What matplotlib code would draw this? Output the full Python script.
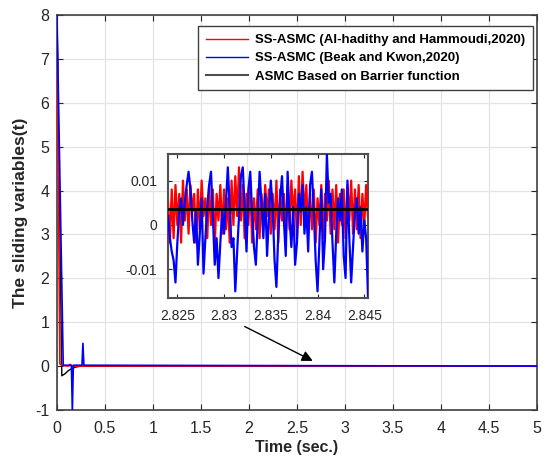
import numpy as np
import matplotlib
matplotlib.use('Agg')
from matplotlib import pyplot as plt

plt.rcParams['font.family'] = ['Liberation Sans', 'DejaVu Sans']
plt.rcParams['axes.unicode_minus'] = False

# main transient (time in s, sliding variable)
t_red = [0, 0.03, 0.05, 0.12, 0.135, 0.15, 5]
s_red = [8, 0.05, 0.02, 0.0, 0.04, 0.0, 0.0]

t_blue = [0, 0.065, 0.15, 0.16, 0.17, 0.26, 0.27, 0.28, 5]
s_blue = [8, 0.02, 0.02, -1.05, 0.02, 0.02, 0.52, 0.02, 0.0]

t_black = [0, 0.05, 0.08, 0.12, 0.16, 0.2, 0.25, 5]
s_black = [8, -0.22, -0.18, -0.1, -0.05, -0.02, 0.0, 0.0]

# zoomed window values (x 1e-3)
red_in = [5, -4, 8, -3, 9, 0, 7, -4, 10, 1, 8, -2, 9, 3, 7, -4, 8, -1, 10, 2,
          6, -3, 9, 0, 8, -5, 7, 1, 9, -2, 8, -1, 6, -4, 10, 0, 11, 2, 13, 1,
          9, -3, 7, 0, 10, -4, 6, -1, 8, -3, 7, 0, 9, 2, 8, -2, 7, -1, 10, -4,
          8, 1, 7, -3, 9, -1, 10, 2, 8, -3, 11, 0, 12, 2, 9, -2, 7, -1, 8, -4,
          6, 0, 9, -3, 7, 1, 10, -2, 8, -1, 9, -4, 7, 0, 8, -3, 9, 1, 10, -2,
          8, -1, 9, -3, 7, 0, 9, 2]
blue_in = [2, -3, -6, -8, -13, -4, 3, 6, 0, 5, 9, 12, 8, 1, -4, 3, -9, -2, 6, -11,
           -3, 4, 9, 12, 2, -9, -3, -12, -4, 3, -2, 5, 13, 4, -5, -3, -15, -6, 2, 11,
           13, 4, -6, 8, 12, 3, -5, -9, 1, 12, 5, -3, 7, -7, 2, 10, 4, -8, -14, -2,
           6, 11, 1, -7, 12, 2, -5, 4, -9, -4, 7, 3, 9, -2, 4, -6, 9, 12, 3, -8,
           -15, -4, 8, -10, -3, 16, 5, 7, -4, -13, -2, 6, 1, 8, -7, -12, 10, -3, -13, -5,
           3, 6, -2, 4, -6, 1, -3, -16]
black_level = 3.5

labels = ['SS-ASMC (Al-hadithy and Hammoudi,2020)',
          'SS-ASMC (Beak and Kwon,2020)',
          'ASMC Based on Barrier function']

fig = plt.figure(figsize=(5.51, 4.61), dpi=100)
ax = fig.add_axes([57/551, 1-410/461, 480/551, 395/461])

ax.plot(t_black, s_black, color='k', lw=1.0, zorder=3)
ax.plot(t_red, s_red, color='r', lw=1.2, zorder=4)
ax.plot(t_blue, s_blue, color='b', lw=1.2, zorder=5)

ax.set_xlim(0, 5)
ax.set_ylim(-1, 8)
ax.set_xticks(np.arange(0, 5.01, 0.5))
ax.set_xticklabels(['0', '0.5', '1', '1.5', '2', '2.5', '3', '3.5', '4', '4.5', '5'])
ax.set_yticks(range(-1, 9))
ax.grid(True, color='#e3e3e3', lw=0.9)
ax.set_axisbelow(True)
ax.tick_params(direction='in', top=True, right=True, labelsize=11.5,
               colors='#262626', length=4)
ax.tick_params(axis='x', pad=8)
ax.tick_params(axis='y', pad=5.5)
for sp in ax.spines.values():
    sp.set_color('#404040')
    sp.set_linewidth(1.2)
ax.set_xlabel('Time (sec.)', fontsize=11.5, fontweight='bold', color='#262626', labelpad=3)
ax.set_ylabel('The sliding variables(t)', fontsize=12.5, fontweight='bold', color='#262626', labelpad=5)

h1, = ax.plot([], [], color='r', lw=1.0)
h2, = ax.plot([], [], color='b', lw=1.0)
h3, = ax.plot([], [], color='#505050', lw=1.5)
leg = ax.legend([h1, h2, h3], labels, loc='upper right',
                bbox_to_anchor=(1 - 4/480, 1 - 11/395), borderaxespad=0,
                prop={'weight': 'bold', 'size': 9.5}, handlelength=3.2,
                labelspacing=0.45, fancybox=False,
                framealpha=1, borderpad=0.6, handletextpad=0.5)
leg.get_frame().set_edgecolor('#404040')
leg.get_frame().set_linewidth(1.0)

ax.annotate('', xy=(2.69, 0.09), xytext=(1.93, 0.93),
            arrowprops=dict(arrowstyle='-|>', color='k', lw=1.0,
                            mutation_scale=16))

# inset
ins = fig.add_axes([168/551, 1-298/461, 200/551, 144/461])
tr = np.linspace(2.824, 2.8454, len(red_in))
tb = np.linspace(2.824, 2.8454, len(blue_in))
ins.plot(tr, np.array(red_in) * 1e-3, color='r', lw=1.6, zorder=3)
ins.plot(tb, np.array(blue_in) * 1e-3, color='b', lw=1.6, zorder=4)
ins.plot([2.824, 2.8454], [black_level * 1e-3] * 2, color='k', lw=2.0, zorder=5)
ins.set_xlim(2.824, 2.8454)
ins.set_ylim(-0.0165, 0.016)
ins.set_xticks([2.825, 2.83, 2.835, 2.84, 2.845])
ins.set_xticklabels(['2.825', '2.83', '2.835', '2.84', '2.845'])
ins.set_xticks([2.8275, 2.8325, 2.8375, 2.8425], minor=True)
ins.set_yticks([-0.01, 0, 0.01])
ins.set_yticklabels(['-0.01', '0', '0.01'])
ins.grid(True, axis='y', color='#e3e3e3', lw=0.9)
ins.grid(True, axis='x', which='minor', color='#e3e3e3', lw=0.9)
ins.set_axisbelow(True)
ins.tick_params(direction='in', top=True, right=True, labelsize=10,
                colors='#262626', length=3, pad=8)
ins.tick_params(which='minor', length=0)
for sp in ins.spines.values():
    sp.set_color('#505050')
    sp.set_linewidth(1.5)

fig.savefig('out.png', dpi=100)
